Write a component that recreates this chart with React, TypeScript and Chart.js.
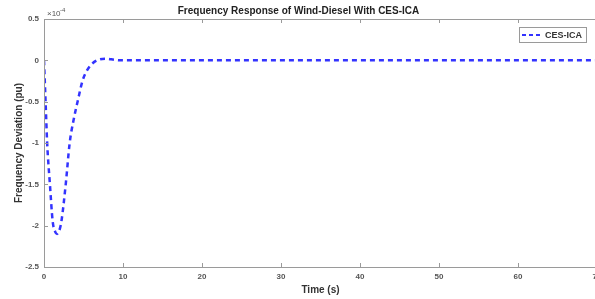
import React, { useEffect, useRef } from "react";
import { Chart, registerables } from "chart.js";

Chart.register(...registerables);

const chartTitle = "Frequency Response of Wind-Diesel With CES-ICA";
const xTitle = "Time (s)";
const yTitle = "Frequency Deviation (pu)";
const seriesLabel = "CES-ICA";
const yExponent = "-4";
// time (s)
const timeValues = [0, 0.2, 0.4, 0.75, 1.1, 1.4, 1.65, 1.9, 2.2, 2.75, 3.25, 3.75, 4.25, 4.9, 5.4, 5.9, 6.7, 7.8, 9, 10, 20, 30, 40, 50, 60, 70];
// deviation (x1e-4 pu)
const deviationValues = [0, -0.5, -1.0, -1.5, -1.95, -2.07, -2.1, -2.07, -1.95, -1.5, -1.0, -0.72, -0.5, -0.24, -0.13, -0.06, 0, 0.02, 0.005, 0, 0, 0, 0, 0, 0, 0];
const xTicks = [0, 10, 20, 30, 40, 50, 60, 70];
const yTicks = [0.5, 0, -0.5, -1, -1.5, -2, -2.5];

const FONT = "'Liberation Sans', Arial, sans-serif";
const LINE_COLOR = "#3333ff";

const boxPlugin = {
  id: "matlabBox",
  afterDraw(chart: any) {
    const { ctx, chartArea: a, scales } = chart;
    ctx.save();
    ctx.strokeStyle = "#9a9a9a";
    ctx.lineWidth = 1;
    ctx.strokeRect(a.left + 0.5, a.top + 0.5, a.right - a.left, a.bottom - a.top);
    const tl = 4;
    ctx.beginPath();
    for (const v of xTicks) {
      const x = Math.round(scales.x.getPixelForValue(v)) + 0.5;
      ctx.moveTo(x, a.bottom);
      ctx.lineTo(x, a.bottom - tl);
      ctx.moveTo(x, a.top);
      ctx.lineTo(x, a.top + tl);
    }
    for (const v of yTicks) {
      const y = Math.round(scales.y.getPixelForValue(v)) + 0.5;
      ctx.moveTo(a.left, y);
      ctx.lineTo(a.left + tl, y);
    }
    ctx.stroke();

    // exponent
    ctx.fillStyle = "#555";
    ctx.font = `8px ${FONT}`;
    ctx.textBaseline = "alphabetic";
    ctx.textAlign = "left";
    ctx.fillText("\u00d710", a.left + 3, a.top - 3);
    ctx.font = `6px ${FONT}`;
    ctx.fillText(yExponent, a.left + 16, a.top - 7);

    // legend
    const lx = 519, ly = 27, lw = 67, lh = 15;
    ctx.fillStyle = "#fff";
    ctx.fillRect(lx, ly, lw, lh);
    ctx.strokeStyle = "#9a9a9a";
    ctx.strokeRect(lx + 0.5, ly + 0.5, lw, lh);
    ctx.strokeStyle = LINE_COLOR;
    ctx.lineWidth = 2;
    ctx.setLineDash([4, 3]);
    ctx.beginPath();
    ctx.moveTo(lx + 3, ly + lh / 2 + 0.5);
    ctx.lineTo(lx + 24, ly + lh / 2 + 0.5);
    ctx.stroke();
    ctx.setLineDash([]);
    ctx.fillStyle = "#333";
    ctx.font = `bold 9px ${FONT}`;
    ctx.textBaseline = "middle";
    ctx.fillText(chart.data.datasets[0].label, lx + 26, ly + lh / 2 + 1);
    ctx.restore();
  },
};

export default function App() {
  const ref = useRef<HTMLCanvasElement>(null);
  useEffect(() => {
    const chart = new Chart(ref.current!, {
      type: "line",
      data: {
        datasets: [
          {
            label: seriesLabel,
            data: timeValues.map((t, i) => ({ x: t, y: deviationValues[i] })),
            borderColor: LINE_COLOR,
            borderWidth: 2.5,
            borderDash: [5, 4],
            pointRadius: 0,
            cubicInterpolationMode: "monotone",
            fill: false,
          },
        ],
      },
      plugins: [boxPlugin],
      options: {
        animation: false,
        responsive: false,
        layout: { padding: { left: 0, right: 13, top: 0, bottom: 0 } },
        plugins: {
          legend: { display: false },
          tooltip: { enabled: false },
          title: {
            display: true,
            text: chartTitle,
            color: "#222",
            font: { family: FONT, size: 10, weight: "bold" },
            padding: { top: 5, bottom: 2 },
          },
        },
        scales: {
          x: {
            type: "linear",
            min: 0,
            max: 70,
            afterBuildTicks: (s: any) => { s.ticks = xTicks.map((v) => ({ value: v })); },
            grid: { display: false, drawTicks: false },
            border: { display: false },
            ticks: { color: "#555", font: { family: FONT, size: 8, weight: "bold" }, padding: 5, maxRotation: 0, autoSkip: false, callback: (v: any) => String(v) },
            title: { display: true, text: xTitle, color: "#333", font: { family: FONT, size: 10, weight: "bold" }, padding: { top: 1, bottom: 3 } },
            afterFit: (s: any) => { s.height = 32; },
          },
          y: {
            type: "linear",
            min: -2.5,
            max: 0.5,
            afterBuildTicks: (s: any) => { s.ticks = yTicks.map((v) => ({ value: v })); },
            grid: { display: false, drawTicks: false },
            border: { display: false },
            ticks: { color: "#555", font: { family: FONT, size: 8, weight: "bold" }, padding: 5, autoSkip: false, callback: (v: any) => String(v) },
            title: { display: true, text: yTitle, color: "#333", font: { family: FONT, size: 10, weight: "bold" }, padding: { top: 13, bottom: 2 } },
            afterFit: (s: any) => { s.width = 44; },
          },
        },
      },
    } as any);
    return () => chart.destroy();
  }, []);
  return (
    <div style={{ position: "fixed", left: 0, top: 0, width: 610, height: 299, background: "#fff" }}>
      <canvas ref={ref} width={610} height={299} />
    </div>
  );
}
